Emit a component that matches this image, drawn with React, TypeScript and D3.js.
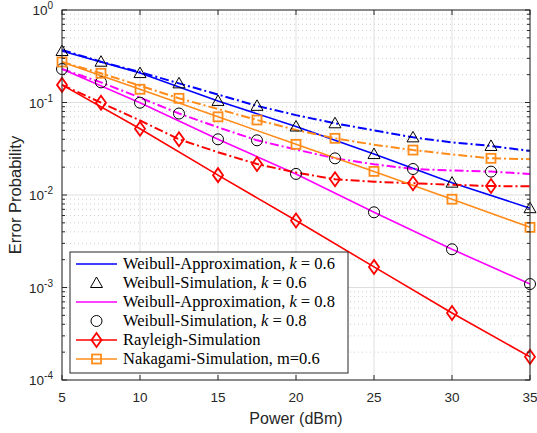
import React from "react";
import * as d3 from "d3";

// power axis (dBm)
const powerCoarse = [5, 10, 15, 20, 25, 30, 35];
const powerFine = [5, 7.5, 10, 12.5, 15, 17.5, 20, 22.5, 25, 27.5, 30, 32.5, 35];

// solid curves, at powerCoarse
const weibullApprox06 = [0.36, 0.208, 0.104, 0.055, 0.0277, 0.0136, 0.0072];
const weibullApprox08 = [0.23, 0.0995, 0.04, 0.0169, 0.0065, 0.00259, 0.00109];
const rayleighSolid = [0.155, 0.052, 0.0164, 0.0053, 0.00167, 0.00053, 0.000178];
const nakagamiSolid = [0.274, 0.139, 0.07, 0.0353, 0.018, 0.009, 0.00447];

// dash-dot curves, at powerFine
const weibullSim06 = [0.37, 0.276, 0.213, 0.161, 0.122, 0.092, 0.073, 0.0596, 0.05, 0.042, 0.037, 0.0339, 0.03];
const weibullSim08 = [0.23, 0.165, 0.113, 0.076, 0.054, 0.039, 0.031, 0.0249, 0.0215, 0.0191, 0.0184, 0.0179, 0.0169];
const rayleighDash = [0.155, 0.0995, 0.064, 0.04, 0.029, 0.0216, 0.0175, 0.0148, 0.0139, 0.0134, 0.0129, 0.0125, 0.0124];
const nakagamiDash = [0.274, 0.207, 0.152, 0.111, 0.085, 0.0647, 0.0505, 0.041, 0.035, 0.0306, 0.0275, 0.0249, 0.0244];

const xTicks = [5, 10, 15, 20, 25, 30, 35];
const yDecades = [0, -1, -2, -3, -4];

const BLUE = "#0000ff";
const MAGENTA = "#ff00ff";
const RED = "#ff0000";
const ORANGE = "#ff8c1a";
const AXIS = "#262626";

type Marker = "tri" | "circ" | "diam" | "sq";

const groups = [
  { color: BLUE, marker: "tri" as Marker, solid: weibullApprox06, dash: weibullSim06 },
  { color: MAGENTA, marker: "circ" as Marker, solid: weibullApprox08, dash: weibullSim08 },
  { color: RED, marker: "diam" as Marker, solid: rayleighSolid, dash: rayleighDash },
  { color: ORANGE, marker: "sq" as Marker, solid: nakagamiSolid, dash: nakagamiDash },
];

function MarkerShape({ kind, x, y, color }: { kind: Marker; x: number; y: number; color: string }) {
  if (kind === "tri") {
    const p = `${x},${y - 6} ${x - 6},${y + 4.5} ${x + 6},${y + 4.5}`;
    return <polygon points={p} fill="none" stroke="#000" strokeWidth={1} />;
  }
  if (kind === "circ") {
    return <circle cx={x} cy={y} r={5.5} fill="none" stroke="#000" strokeWidth={1} />;
  }
  if (kind === "diam") {
    const p = `${x},${y - 7} ${x - 5},${y} ${x},${y + 7} ${x + 5},${y}`;
    return <polygon points={p} fill="none" stroke={color} strokeWidth={1.8} />;
  }
  return <rect x={x - 4.5} y={y - 4.5} width={9} height={9} fill="none" stroke={color} strokeWidth={1.8} />;
}

export default function App() {
  const width = 537;
  const height = 433;
  const x = d3.scaleLinear().domain([5, 35]).range([62, 530]);
  const y = d3.scaleLog().domain([1e-4, 1]).range([380, 10]);
  const [x0, x1] = x.range();
  const [y0, y1] = y.range();

  const line = d3
    .line<[number, number]>()
    .x((d) => x(d[0]))
    .y((d) => y(d[1]));

  const minor: number[] = [];
  for (let e = -4; e < 0; e++) for (let m = 2; m <= 9; m++) minor.push(m * Math.pow(10, e));

  const legendRows: { label: React.ReactNode; color: string; marker: Marker | null; showLine: boolean; markColor: string }[] = [
    { label: <>Weibull-Approximation, <tspan fontStyle="italic">k</tspan> = 0.6</>, color: BLUE, marker: null, showLine: true, markColor: BLUE },
    { label: <>Weibull-Simulation, <tspan fontStyle="italic">k</tspan> = 0.6</>, color: "#000", marker: "tri", showLine: false, markColor: "#000" },
    { label: <>Weibull-Approximation, <tspan fontStyle="italic">k</tspan> = 0.8</>, color: MAGENTA, marker: null, showLine: true, markColor: MAGENTA },
    { label: <>Weibull-Simulation, <tspan fontStyle="italic">k</tspan> = 0.8</>, color: "#000", marker: "circ", showLine: false, markColor: "#000" },
    { label: <>Rayleigh-Simulation</>, color: RED, marker: "diam", showLine: true, markColor: RED },
    { label: <>Nakagami-Simulation, m=0.6</>, color: ORANGE, marker: "sq", showLine: true, markColor: ORANGE },
  ];

  return (
    <svg width={width} height={height} style={{ position: "absolute", left: 0, top: 0, background: "#fff" }}>
      <rect x={0} y={0} width={width} height={height} fill="#fff" />
      {/* grid */}
      <g>
        {minor.map((v, i) => (
          <line key={"mg" + i} x1={x0} x2={x1} y1={y(v)} y2={y(v)} stroke="#c4c4c4" strokeWidth={0.8} strokeDasharray="1,3" />
        ))}
        {xTicks.map((t) => (
          <line key={"xg" + t} x1={x(t)} x2={x(t)} y1={y0} y2={y1} stroke="#dfdfdf" strokeWidth={1} />
        ))}
        {yDecades.map((e) => (
          <line key={"yg" + e} x1={x0} x2={x1} y1={y(Math.pow(10, e))} y2={y(Math.pow(10, e))} stroke="#dfdfdf" strokeWidth={1} />
        ))}
      </g>
      {/* curves */}
      <g>
        {groups.map((g, gi) => (
          <g key={gi}>
            <path
              d={line(powerFine.map((p, i) => [p, g.dash[i]] as [number, number])) || ""}
              fill="none"
              stroke={g.color}
              strokeWidth={2}
              strokeDasharray="9,3,2,3"
            />
            <path
              d={line(powerCoarse.map((p, i) => [p, g.solid[i]] as [number, number])) || ""}
              fill="none"
              stroke={g.color}
              strokeWidth={1.6}
            />
          </g>
        ))}
        {groups.map((g, gi) => (
          <g key={"m" + gi}>
            {powerCoarse.map((p, i) => (
              <MarkerShape key={"s" + i} kind={g.marker} x={x(p)} y={y(g.solid[i])} color={g.color} />
            ))}
            {powerFine.map((p, i) =>
              i % 2 === 1 ? <MarkerShape key={"d" + i} kind={g.marker} x={x(p)} y={y(g.dash[i])} color={g.color} /> : null
            )}
          </g>
        ))}
      </g>
      {/* axes box and ticks */}
      <g stroke={AXIS} strokeWidth={1}>
        <rect x={x0} y={y1} width={x1 - x0} height={y0 - y1} fill="none" />
        {xTicks.map((t) => (
          <g key={"xt" + t}>
            <line x1={x(t)} x2={x(t)} y1={y0} y2={y0 - 5} />
            <line x1={x(t)} x2={x(t)} y1={y1} y2={y1 + 5} />
          </g>
        ))}
        {yDecades.map((e) => (
          <g key={"yt" + e}>
            <line x1={x0} x2={x0 + 5} y1={y(Math.pow(10, e))} y2={y(Math.pow(10, e))} />
            <line x1={x1} x2={x1 - 5} y1={y(Math.pow(10, e))} y2={y(Math.pow(10, e))} />
          </g>
        ))}
        {minor.map((v, i) => (
          <g key={"ym" + i}>
            <line x1={x0} x2={x0 + 3} y1={y(v)} y2={y(v)} />
            <line x1={x1} x2={x1 - 3} y1={y(v)} y2={y(v)} />
          </g>
        ))}
      </g>
      {/* tick labels */}
      <g fontFamily="'Liberation Sans', Arial, sans-serif" fill={AXIS}>
        {xTicks.map((t) => (
          <text key={"xl" + t} x={x(t)} y={402} fontSize={13.5} textAnchor="middle">
            {t}
          </text>
        ))}
        {yDecades.map((e) => (
          <text key={"yl" + e} x={53} y={y(Math.pow(10, e)) + 5} fontSize={13.5} textAnchor="end">
            10
            <tspan dy={-6} fontSize={10}>
              {e}
            </tspan>
          </text>
        ))}
        <text x={(x0 + x1) / 2} y={424} fontSize={16} textAnchor="middle">
          Power (dBm)
        </text>
        <text transform={`translate(21,${(y0 + y1) / 2}) rotate(-90)`} fontSize={16.5} textAnchor="middle">
          Error Probability
        </text>
      </g>
      {/* legend */}
      <g>
        <rect x={70} y={252} width={278} height={121} fill="#fff" stroke={AXIS} strokeWidth={1} />
        {legendRows.map((r, i) => {
          const cy = 264 + i * 19;
          return (
            <g key={"lg" + i}>
              {r.showLine && <line x1={76} x2={117} y1={cy} y2={cy} stroke={r.color} strokeWidth={1.6} />}
              {r.marker && <MarkerShape kind={r.marker} x={96.5} y={cy} color={r.markColor} />}
              <text x={123} y={cy + 5} fontSize={16.5} fontFamily="'Liberation Serif', 'Times New Roman', serif" fill="#000">
                {r.label}
              </text>
            </g>
          );
        })}
      </g>
    </svg>
  );
}
